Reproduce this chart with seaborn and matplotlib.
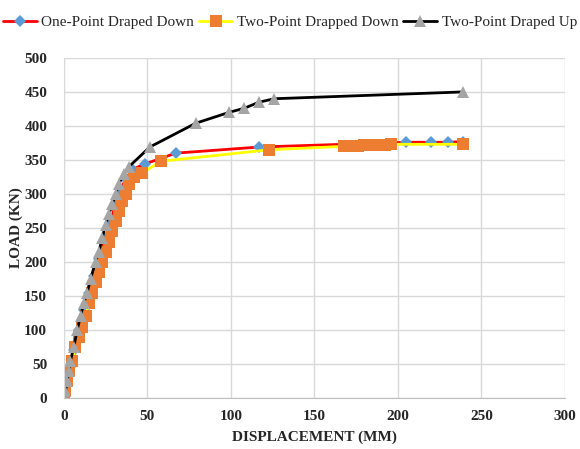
import matplotlib
matplotlib.use("Agg")
import matplotlib.pyplot as plt
import seaborn as sns

# One-Point Draped Down
one_x = [0, 2, 4, 6, 9, 12, 15, 18, 21, 25, 28, 31, 34, 37, 41, 48.5, 67, 117, 205, 220, 230, 239]
one_y = [0, 20, 45, 70, 100, 130, 155, 180, 205, 235, 260, 285, 305, 322, 336, 344, 360, 369, 376, 376, 376, 377]

# Two-Point Drapped Down
two_dn_x = [0, 1, 2, 3, 5, 7, 9, 11, 13, 15, 17, 19, 21, 23, 25, 27, 29, 31, 33, 35, 37, 39, 42, 47,
            58, 123, 168, 172, 176, 180, 184, 188, 192, 196, 239]
two_dn_y = [0, 10, 25, 40, 55, 75, 90, 105, 120, 140, 155, 170, 185, 200, 215, 230, 245, 260, 275, 290,
            300, 315, 325, 331, 348, 365, 370, 371, 371, 372, 372, 372, 372, 373, 373]

# Two-Point Draped Up
two_up_x = [0, 1, 2, 3, 4, 6, 8, 10, 12, 14, 16, 19, 21, 23, 25, 27, 29, 31, 33, 36, 39,
            51.5, 79, 99, 108, 117, 126, 239]
two_up_y = [0, 10, 25, 40, 55, 75, 100, 120, 140, 155, 175, 200, 215, 235, 255, 270, 285, 300, 315,
            330, 340, 369, 404, 420, 426, 435, 440, 450]

sns.set_style("white")
plt.rcParams["font.family"] = ["Liberation Serif", "DejaVu Serif"]

fig = plt.figure(figsize=(5.8, 4.49), dpi=100)
ax = fig.add_axes([0.110, 0.1136, 0.864, 0.7574])

sns.lineplot(x=one_x, y=one_y, ax=ax, sort=False, estimator=None, color="#FF0000", lw=2,
             marker="D", markersize=6, markerfacecolor="#5B9BD5", markeredgewidth=0,
             label="One-Point Draped Down")
sns.lineplot(x=two_dn_x, y=two_dn_y, ax=ax, sort=False, estimator=None, color="#FFFF00", lw=2,
             marker="s", markersize=8, markerfacecolor="#ED7D31", markeredgewidth=0,
             label="Two-Point Drapped Down")
sns.lineplot(x=two_up_x, y=two_up_y, ax=ax, sort=False, estimator=None, color="#000000", lw=2,
             marker="^", markersize=9, markerfacecolor="#A5A5A5", markeredgewidth=0,
             label="Two-Point Draped Up")

ax.set_xlim(0, 300)
ax.set_ylim(0, 500)
ax.set_xticks(range(0, 301, 50))
ax.set_yticks(range(0, 501, 50))
ax.grid(True, color="#D9D9D9", lw=1)
ax.set_axisbelow(True)
for s in ["top", "right"]:
    ax.spines[s].set_visible(False)
ax.spines["left"].set_color("#D9D9D9")
ax.spines["bottom"].set_color("#BFBFBF")
ax.tick_params(length=0, labelsize=11)
ax.tick_params(axis="x", pad=9)
ax.tick_params(axis="y", pad=12)
for lbl in ax.get_xticklabels() + ax.get_yticklabels():
    lbl.set_fontweight("bold")

ax.set_xlabel("DISPLACEMENT (MM)", fontsize=11, fontweight="bold", labelpad=5)
ax.set_ylabel("LOAD (KN)", fontsize=11, fontweight="bold", labelpad=1)

ax.legend(loc="center", bbox_to_anchor=(0.5, 0.951), bbox_transform=fig.transFigure,
          ncol=3, frameon=False, fontsize=11, handlelength=2.2, handletextpad=0.3,
          columnspacing=0.3, borderaxespad=0)

fig.savefig("out.png", dpi=100)
